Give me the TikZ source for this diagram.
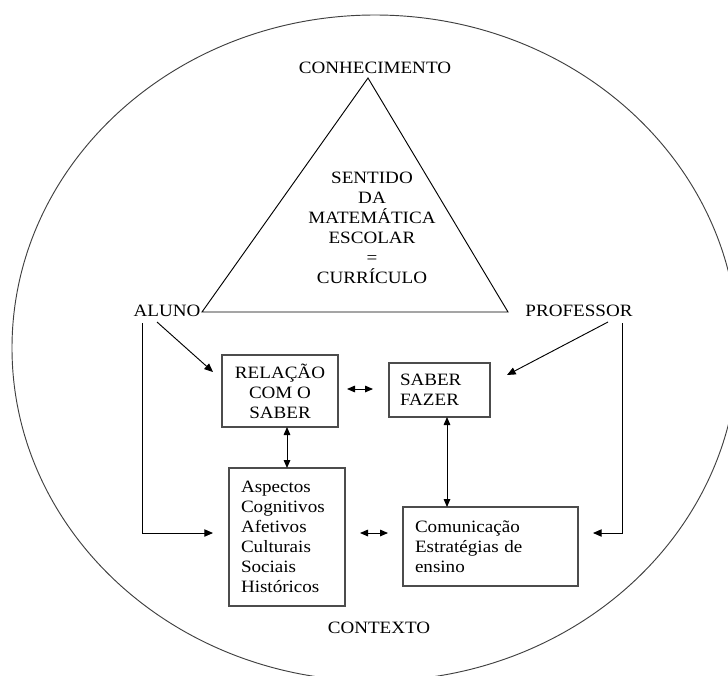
\documentclass[tikz,border=0pt]{standalone}
\usepackage{fontspec}
\setmainfont[FakeStretch=1.1]{Liberation Serif}
\usetikzlibrary{arrows.meta}
\begin{document}
\begin{tikzpicture}[x=0.75pt,y=-0.75pt,
  font=\fontsize{13}{15}\selectfont,
  lbl/.style={inner sep=0pt},
  boxc/.style={draw=black!70,line width=0.8pt,align=center,inner sep=0pt},
  boxl/.style={draw=black!70,line width=0.8pt,align=left,inner ysep=0pt},
  conn/.style={line width=0.7pt},
  arr/.style={conn,-{Triangle[length=6.5pt,width=5.5pt]}},
  dbl/.style={conn,{Triangle[length=6pt,width=5pt]}-{Triangle[length=6pt,width=5pt]}}]
\useasboundingbox (0,0) rectangle (728,675);
\clip (0,0) rectangle (728,675);
\fill[white] (0,0) rectangle (728,675);
% context ellipse
\draw[black!75,line width=0.7pt] (375,348) ellipse [x radius=272.25pt, y radius=249.75pt];
% triangle
\draw[line width=0.7pt] (368,78) -- (508,312) -- (202,312) -- cycle;
\node[lbl] (conh) at (375,68) {CONHECIMENTO};
\node[lbl,align=center] (tri) at (372,228) {SENTIDO\\DA\\MATEMÁTICA\\ESCOLAR\\=\\CURRÍCULO};
\node[lbl] (aluno) at (167,311) {ALUNO};
\node[lbl] (prof) at (579,311) {PROFESSOR};
\node[lbl] (ctx) at (379,628) {CONTEXTO};
% boxes
\node[boxc,minimum width=87pt,minimum height=54pt] (rel) at (280,391) {RELAÇÃO\\COM O\\SABER};
\node[boxl,inner xsep=8.25pt,text width=59.25pt,minimum height=40.5pt] (sf) at (439.5,390) {SABER\\FAZER};
\node[boxl,inner xsep=9pt,text width=69pt,minimum height=103.5pt] (asp) at (287,537) {Aspectos\\Cognitivos\\Afetivos\\Culturais\\Sociais\\Históricos};
\node[boxl,inner xsep=9pt,text width=113.25pt,minimum height=59.25pt] (com) at (490.5,546.5) {Comunicação\\Estratégias de\\ensino};
% connector coordinates
\coordinate (a1) at (157,322);
\coordinate (a2) at (213,372);
\coordinate (p1) at (608,322);
\coordinate (p2) at (507,375);
\coordinate (al1) at (142,323);
\coordinate (al2) at (142,533);
\coordinate (al3) at (213,533);
\coordinate (pr1) at (622,323);
\coordinate (pr2) at (622,533);
\coordinate (pr3) at (593,533);
\coordinate (h1) at (347,389);
\coordinate (h2) at (373,389);
\coordinate (h3) at (360,533);
\coordinate (h4) at (388,533);
\coordinate (v1) at (287,427);
\coordinate (v2) at (287,468);
\coordinate (v3) at (447,417);
\coordinate (v4) at (447,507);
% connectors
\draw[arr] (a1) -- (a2);
\draw[arr] (p1) -- (p2);
\draw[arr] (al1) -- (al2) -- (al3);
\draw[arr] (pr1) -- (pr2) -- (pr3);
\draw[dbl] (h1) -- (h2);
\draw[dbl] (h3) -- (h4);
\draw[dbl] (v1) -- (v2);
\draw[dbl] (v3) -- (v4);
\end{tikzpicture}
\end{document}
